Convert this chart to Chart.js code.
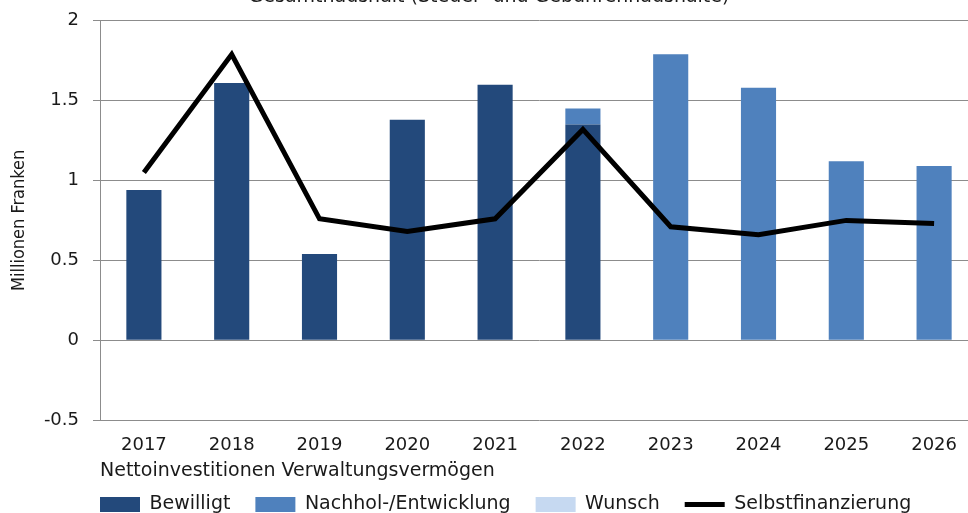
<!DOCTYPE html>
<html>
<head>
<meta charset="utf-8">
<script src="https://cdn.jsdelivr.net/npm/chart.js@4/dist/chart.umd.min.js"></script>
<style>
  html, body { margin: 0; padding: 0; background: #fff; overflow: hidden; }
  #wrap { position: absolute; left: 0; top: -14px; width: 992px; height: 538px; }
</style>
</head>
<body>
<div id="wrap"><canvas id="chart"></canvas></div>
<script>
  // Nettoinvestitionen Verwaltungsvermögen, Millionen Franken
  const years = ["2017", "2018", "2019", "2020", "2021", "2022", "2023", "2024", "2025", "2026"];
  const bewilligt = [0.94, 1.61, 0.54, 1.38, 1.6, 1.35, null, null, null, null];
  const nachhol = [null, null, null, null, null, 0.1, 1.79, 1.58, 1.12, 1.09];
  const wunsch = [null, null, null, null, null, null, null, null, null, null];
  const selbstfinanzierung = [1.05, 1.79, 0.76, 0.68, 0.76, 1.32, 0.71, 0.66, 0.75, 0.73];
  const yTicks = [-0.5, 0, 0.5, 1, 1.5, 2];

  const FONT = "'DejaVu Sans', sans-serif";
  const FONT_NARROW = "'DejaVu Sans Condensed', 'DejaVu Sans', sans-serif";
  const TEXT = "#1a1a1a";
  const GRID = "#8c8c8c";

  const barCommon = { stack: "bars", order: 1, barPercentage: 0.4, categoryPercentage: 1, borderWidth: 0 };

  // legend row starts under the plot, not at the canvas edge
  const legendShift = {
    id: "legendShift",
    afterLayout(chart) {
      chart.legend.left = 75;
    },
  };

  new Chart(document.getElementById("chart"), {
    type: "bar",
    data: {
      labels: years,
      datasets: [
        { ...barCommon, label: "Bewilligt", data: bewilligt, backgroundColor: "#23497b" },
        { ...barCommon, label: "Nachhol-/Entwicklung", data: nachhol, backgroundColor: "#4f81bd" },
        { ...barCommon, label: "Wunsch", data: wunsch, backgroundColor: "#c6d9f1" },
        {
          type: "line",
          label: "Selbstfinanzierung",
          data: selbstfinanzierung,
          stack: "line",
          order: 0,
          borderColor: "#000",
          backgroundColor: "#000",
          borderWidth: 5,
          pointRadius: 0,
          tension: 0,
          fill: false,
        },
      ],
    },
    plugins: [legendShift],
    options: {
      responsive: true,
      maintainAspectRatio: false,
      animation: false,
      layout: { padding: { left: 0, right: 14, top: 0, bottom: 0 } },
      scales: {
        x: {
          stacked: true,
          grid: { display: false, drawTicks: false },
          border: { display: false },
          ticks: { color: TEXT, font: { family: FONT, size: 18 }, padding: 15 },
          title: {
            display: true,
            align: "start",
            text: "Nettoinvestitionen Verwaltungsvermögen",
            color: TEXT,
            font: { family: FONT, size: 19 },
            padding: { top: 4, bottom: -12 },
          },
          afterFit: (axis) => { axis.height = 50; },
        },
        y: {
          stacked: true,
          min: -0.5,
          max: 2,
          afterBuildTicks: (axis) => { axis.ticks = yTicks.map((v) => ({ value: v })); },
          afterFit: (axis) => { axis.width = 100; },
          grid: { color: GRID, lineWidth: 1, tickLength: 7 },
          border: { color: GRID, width: 1 },
          ticks: { color: TEXT, font: { family: FONT, size: 18 }, padding: 14, callback: (v) => String(v) },
          title: { display: true, text: "Millionen Franken", color: TEXT, font: { family: FONT_NARROW, size: 18 }, padding: { top: 9, bottom: 0 } },
        },
      },
      plugins: {
        title: {
          display: true,
          text: "Gesamthaushalt (Steuer- und Gebührenhaushalte)",
          color: TEXT,
          font: { family: FONT, size: 19, weight: "normal" },
          padding: { top: 0, bottom: 12 },
        },
        tooltip: { enabled: false },
        legend: {
          position: "bottom",
          align: "start",
          labels: {
            color: TEXT,
            font: { family: FONT, size: 19 },
            usePointStyle: true,
            pointStyleWidth: 40,
            boxHeight: 15,
            padding: 25,
            generateLabels: (chart) =>
              chart.data.datasets.map((ds, i) => ({
                text: ds.label,
                datasetIndex: i,
                fillStyle: ds.type === "line" ? "#000" : ds.backgroundColor,
                strokeStyle: ds.type === "line" ? "#000" : ds.backgroundColor,
                lineWidth: ds.type === "line" ? 5 : 0,
                pointStyle: ds.type === "line" ? "line" : "rect",
                fontColor: TEXT,
                hidden: false,
              })),
          },
        },
      },
    },
  });
</script>
</body>
</html>
